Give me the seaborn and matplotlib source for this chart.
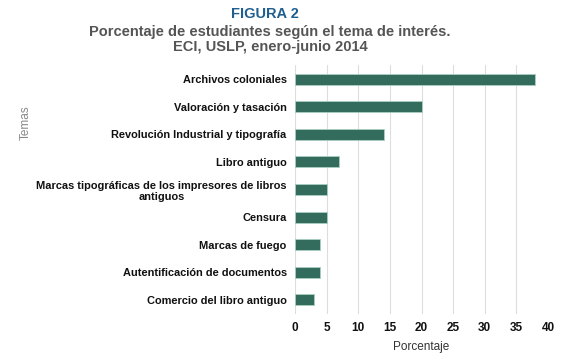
import matplotlib
matplotlib.use("Agg")
import matplotlib.pyplot as plt
import seaborn as sns
import pandas as pd

temas = [
    "Archivos coloniales",
    "Valoración y tasación",
    "Revolución Industrial y tipografía",
    "Libro antiguo",
    "Marcas tipográficas de los impresores de libros\nantiguos",
    "Censura",
    "Marcas de fuego",
    "Autentificación de documentos",
    "Comercio del libro antiguo",
]
porcentaje = [38, 20, 14, 7, 5, 5, 4, 4, 3]
xticks = [0, 5, 10, 15, 20, 25, 30, 35, 40]

df = pd.DataFrame({"Temas": temas, "Porcentaje": porcentaje})

sns.set_theme(style="white")
plt.rcParams["font.family"] = ["Liberation Sans", "DejaVu Sans"]

fig = plt.figure(figsize=(5.83, 3.59), dpi=100)
ax = fig.add_axes([0.506, 0.126, 0.434, 0.692])

sns.barplot(data=df, x="Porcentaje", y="Temas", color="#336b5c", width=0.4,
            edgecolor="#a9cfc2", linewidth=0.6, saturation=1, ax=ax)

ax.set_xlim(0, 40)
ax.set_xticks(xticks)
ax.set_xticklabels([str(t) for t in xticks], fontsize=8.5, fontweight="bold", color="#111111")
ax.grid(axis="x", color="#dddddd", linewidth=0.8)
ax.grid(axis="y", visible=False)
ax.set_axisbelow(True)
for s in ax.spines.values():
    s.set_visible(False)
ax.tick_params(axis="both", length=0, pad=6)
for lbl in ax.get_yticklabels():
    lbl.set_fontsize(7.9)
    lbl.set_fontweight("bold")
    lbl.set_color("#111111")
    lbl.set_multialignment("center")

ax.set_xlabel("Porcentaje", fontsize=8.5, color="#333333")
ax.set_ylabel("Temas", fontsize=8.5, color="#888888")
ax.yaxis.set_label_coords(-1.04, 0.77)
ax.xaxis.set_label_coords(0.5, -0.11)

fig.text(0.455, 0.96, "FIGURA 2", ha="center", va="center", fontsize=10.5,
         fontweight="bold", color="#1f5f8f")
fig.text(0.463, 0.89, "Porcentaje de estudiantes según el tema de interés.\nECI, USLP, enero-junio 2014",
         ha="center", va="center", fontsize=10.5, fontweight="bold", color="#555555",
         linespacing=1.1)

fig.savefig("out.png", dpi=100)
